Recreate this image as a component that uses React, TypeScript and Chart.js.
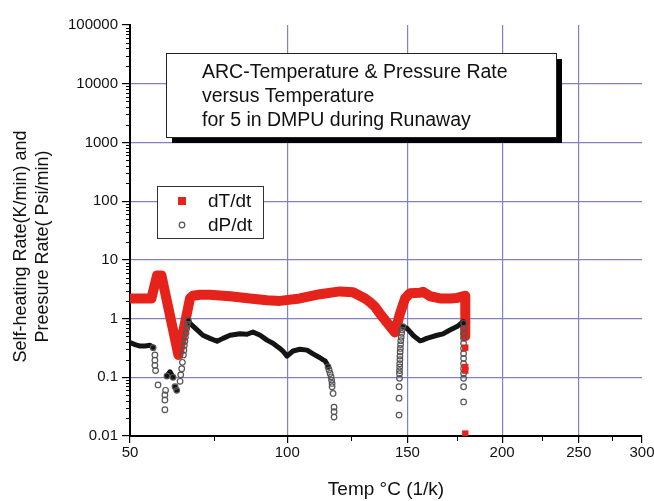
import React, { useEffect, useRef } from 'react';
import { Chart, registerables } from 'chart.js';

Chart.register(...registerables);

const FONT = "'Liberation Sans', Arial, Helvetica, sans-serif";

// ---------- text ----------
const titleLines = ['ARC-Temperature & Pressure Rate', 'versus Temperature', 'for 5 in DMPU during Runaway'];
const yAxisTitle = ['Self-heating Rate(K/min) and', 'Preesure Rate( Psi/min)'];
const xAxisTitle = 'Temp °C (1/k)';
const seriesLabels = ['dT/dt', 'dP/dt'];

// ---------- ticks ----------
const xMajorTicks = [50, 100, 150, 200, 250, 300];
const xMinorTicks = [75, 125, 175, 225, 275];
const yMajorTicks = [0.01, 0.1, 1, 10, 100, 1000, 10000, 100000];
const yTickLabels = ['0.01', '0.1', '1', '10', '100', '1000', '10000', '100000'];
const yMinorMultipliers = [2, 3, 4, 5, 6, 7, 8, 9];

// ---------- dT/dt (self-heating rate) ----------
const dTdtTemp = [50, 53, 56.0, 57.6, 58.9, 63.9, 67.4, 68.3, 70.5, 73.6, 80.1, 86.8, 92.7, 97.3, 104.7, 112.4, 120.4, 125.8, 130.9, 133.1, 135.2, 137.5, 140.6, 144.2, 146.5, 148.9, 151.2, 156.0, 157.5, 161.0, 166.0, 171.1, 174.8, 178.0, 179.2, 179.2];
const dTdtRate = [2.2, 2.2, 2.2, 5.4, 5.4, 0.24, 2.2, 2.45, 2.55, 2.55, 2.4, 2.2, 2.05, 2.0, 2.2, 2.6, 2.9, 2.8, 2.2, 1.9, 1.6, 1.2, 0.85, 0.58, 1.2, 2.2, 2.7, 2.75, 2.85, 2.4, 2.2, 2.2, 2.25, 2.4, 2.45, 0.5];
const dTdtTailTemp = [179.2, 179.2, 179.2, 179.2];
const dTdtTailRate = [0.32, 0.15, 0.13, 0.011];

// ---------- dP/dt (pressure rate) ----------
const dPdtTemp = [
  50, 51.4, 52.8, 54.2, 55.6, 56.5, 57.0, 57.0, 57.0, 57.2, 57.9, 59.9, 59.9, 59.9, 60.1,
  60.5, 61.4, 62.3, 62.9, 63.4, 64.4, 64.6, 64.9, 65.1, 65.4, 65.55, 65.7, 65.85, 66.0, 66.2, 66.4, 66.6, 66.9,
  67.4, 69.6, 71.4, 73.6, 75.9, 77.8, 80.1, 83.4, 85.8, 87.8, 90.3, 92.7, 94.8, 97.3, 98.4, 99.9,
  102.1, 104.7, 107.4, 109.7, 112.4, 113.5, 114.4, 115.0, 115.6, 116.0, 116.4, 116.8, 117.0, 117.2, 117.2, 117.6, 118.0, 118.0, 118.0,
  146.1, 146.1, 146.1, 146.3, 146.3, 146.3, 146.4, 146.4, 146.5, 146.5, 146.6, 146.7, 146.8, 146.9, 147.1, 147.3, 147.5, 147.9,
  149.8, 151.2, 152.7, 154.5, 156.0, 157.5, 159.3, 161.0, 164.5, 167.5, 171.1, 174.8, 178.0,
  178.3, 178.3, 178.3, 178.3, 178.3, 178.3, 178.3, 178.3, 178.3, 178.3, 178.3, 178.3, 178.3, 178.3
];
const dPdtRate = [
  0.39, 0.36, 0.34, 0.34, 0.35, 0.32, 0.24, 0.196, 0.16, 0.13, 0.074, 0.028, 0.041, 0.05, 0.06,
  0.105, 0.124, 0.10, 0.069, 0.06, 0.0855, 0.11, 0.14, 0.18, 0.24, 0.29, 0.35, 0.41, 0.48, 0.57, 0.68, 0.8, 0.93,
  0.83, 0.64, 0.52, 0.46, 0.41, 0.46, 0.52, 0.55, 0.54, 0.59, 0.52, 0.43, 0.38, 0.31, 0.28, 0.23,
  0.28, 0.30, 0.29, 0.25, 0.215, 0.2, 0.19, 0.173, 0.151, 0.133, 0.116, 0.102, 0.0895, 0.0786, 0.069, 0.053, 0.031, 0.026, 0.021,
  0.0227, 0.044, 0.069, 0.096, 0.115, 0.13, 0.15, 0.17, 0.2, 0.23, 0.27, 0.31, 0.36, 0.42, 0.48, 0.56, 0.64, 0.73,
  0.68, 0.6, 0.52, 0.46, 0.42, 0.43, 0.46, 0.48, 0.52, 0.55, 0.64, 0.73, 0.88,
  0.83, 0.68, 0.56, 0.46, 0.38, 0.31, 0.255, 0.21, 0.17, 0.14, 0.116, 0.096, 0.069, 0.038
];

// ---------- helpers ----------
const RED = '#e5231b';
const DARK = '#141414';
const RING = '#555555';
const GRID = '#8080c6';

// x axis is a reciprocal-temperature (1/K) axis labelled in °C
const toU = (t: number) => -1000 / (t + 273.15);
const pts = (temps: number[], rates: number[]) => temps.map((t, i) => ({ x: toU(t), y: rates[i] }));

// sparse (fast-changing) stretches show separate rings, dense stretches a solid band
const isSteep = (dx: number, dy: number) => dx > 25 || dy > 2 * dx + 0.5;

function neighbourSteep(c: any): boolean {
  const d = c.dataset && c.dataset.data;
  const i = c.dataIndex;
  if (!d || i === undefined || i === null) return false;
  const xs = c.chart.scales.x;
  const ys = c.chart.scales.y;
  if (!xs || !ys) return false;
  const px = (p: any) => [xs.getPixelForValue(p.x), ys.getPixelForValue(p.y)];
  const cur = px(d[i]);
  const test = (j: number) => {
    if (j < 0 || j >= d.length) return false;
    const o = px(d[j]);
    return isSteep(Math.abs(o[0] - cur[0]), Math.abs(o[1] - cur[1]));
  };
  return test(i - 1) || test(i + 1);
}

const overlayPlugin = {
  id: 'overlay',
  afterDraw(chart: any) {
    const { ctx, chartArea: a, scales } = chart;
    const xs = scales.x;
    const ys = scales.y;
    ctx.save();

    // minor ticks
    ctx.strokeStyle = '#000';
    ctx.lineWidth = 1;
    ctx.beginPath();
    for (let i = 0; i < yMajorTicks.length - 1; i++) {
      for (const m of yMinorMultipliers) {
        const py = Math.round(ys.getPixelForValue(yMajorTicks[i] * m)) + 0.5;
        ctx.moveTo(a.left - 4, py);
        ctx.lineTo(a.left, py);
      }
    }
    for (const t of xMinorTicks) {
      const px = Math.round(xs.getPixelForValue(toU(t))) + 0.5;
      ctx.moveTo(px, a.bottom);
      ctx.lineTo(px, a.bottom + 5);
    }
    ctx.stroke();

    // y axis title (two lines, rotated)
    ctx.fillStyle = '#111';
    ctx.font = `18px ${FONT}`;
    ctx.textAlign = 'center';
    ctx.textBaseline = 'middle';
    const cy = (a.top + a.bottom) / 2 + 16;
    yAxisTitle.forEach((line, i) => {
      ctx.save();
      ctx.translate(a.left - 109 + i * 22, cy);
      ctx.rotate(-Math.PI / 2);
      ctx.fillText(line, 0, 0);
      ctx.restore();
    });

    // title box with drop shadow
    const bx = a.left + 36, by = a.top + 28, bw = 390, bh = 84;
    ctx.fillStyle = '#000';
    ctx.fillRect(bx + 6, by + 6, bw, bh);
    ctx.fillStyle = '#fff';
    ctx.fillRect(bx, by, bw, bh);
    ctx.strokeStyle = '#222';
    ctx.lineWidth = 1;
    ctx.strokeRect(bx + 0.5, by + 0.5, bw, bh);
    ctx.fillStyle = '#111';
    ctx.font = `19.5px ${FONT}`;
    ctx.textAlign = 'left';
    ctx.textBaseline = 'middle';
    titleLines.forEach((line, i) => ctx.fillText(line, bx + 36, by + 19.5 + i * 24));

    // legend
    const lx = a.left + 27, ly = a.top + 161, lw = 106, lh = 52;
    ctx.fillStyle = '#fff';
    ctx.fillRect(lx, ly, lw, lh);
    ctx.strokeStyle = '#333';
    ctx.strokeRect(lx + 0.5, ly + 0.5, lw, lh);
    ctx.font = `19px ${FONT}`;
    ctx.textAlign = 'left';
    seriesLabels.forEach((label, i) => {
      const my = ly + 15 + i * 24;
      const mx = lx + 25;
      if (i === 0) {
        ctx.fillStyle = RED;
        ctx.fillRect(mx - 4, my - 4, 8, 8);
      } else {
        ctx.strokeStyle = RING;
        ctx.lineWidth = 1.2;
        ctx.beginPath();
        ctx.arc(mx, my, 2.8, 0, Math.PI * 2);
        ctx.stroke();
      }
      ctx.fillStyle = '#111';
      ctx.fillText(label, lx + 51, my + 1);
    });

    ctx.restore();
  },
};

export default function App() {
  const ref = useRef<HTMLCanvasElement>(null);

  useEffect(() => {
    if (!ref.current) return;
    Chart.defaults.font.family = FONT;
    Chart.defaults.color = '#111';

    const chart = new Chart(ref.current, {
      type: 'line',
      data: {
        datasets: [
          {
            label: seriesLabels[0],
            data: pts(dTdtTailTemp, dTdtTailRate),
            showLine: false,
            pointStyle: 'rect',
            pointRadius: 4.5,
            pointBackgroundColor: RED,
            pointBorderColor: RED,
            pointBorderWidth: 0,
          },
          {
            label: seriesLabels[1],
            data: pts(dPdtTemp, dPdtRate),
            borderColor: DARK,
            borderWidth: 5,
            borderJoinStyle: 'round',
            borderCapStyle: 'round',
            tension: 0,
            pointStyle: 'circle',
            pointRadius: (c: any) => (neighbourSteep(c) ? 2.8 : 0),
            pointBorderColor: RING,
            pointBorderWidth: 1.2,
            pointBackgroundColor: 'rgba(255,255,255,0)',
            segment: {
              borderColor: (s: any) =>
                isSteep(Math.abs(s.p1.x - s.p0.x), Math.abs(s.p1.y - s.p0.y)) ? 'rgba(0,0,0,0)' : DARK,
            },
          },
          {
            label: seriesLabels[0],
            data: pts(dTdtTemp, dTdtRate),
            borderColor: RED,
            borderWidth: 10,
            borderJoinStyle: 'round',
            borderCapStyle: 'butt',
            tension: 0,
            pointRadius: 0,
          },
        ],
      },
      options: {
        animation: false,
        responsive: false,
        maintainAspectRatio: false,
        events: [],
        layout: { padding: { left: 0, right: 12, top: 25, bottom: 0 } },
        plugins: {
          legend: { display: false },
          tooltip: { enabled: false },
          title: { display: false },
        },
        scales: {
          x: {
            type: 'linear',
            min: toU(50),
            max: toU(300),
            afterBuildTicks: (s: any) => {
              s.ticks = xMajorTicks.map((t) => ({ value: toU(t) }));
            },
            afterFit: (s: any) => {
              s.height = 65;
              s.paddingLeft = 0;
              s.paddingRight = 0;
            },
            ticks: {
              autoSkip: false,
              maxRotation: 0,
              padding: 1,
              color: '#111',
              font: { size: 15 },
              callback: (_v: any, i: number) => String(xMajorTicks[i]),
            },
            grid: {
              color: (c: any) =>
                c.index === 0 || c.index === xMajorTicks.length - 1 ? 'rgba(0,0,0,0)' : GRID,
              lineWidth: 1.2,
              drawTicks: true,
              tickLength: 7,
              tickColor: '#000',
              tickWidth: 1.2,
            },
            border: { display: true, color: '#000', width: 2 },
            title: {
              display: true,
              text: xAxisTitle,
              color: '#111',
              font: { size: 19 },
              padding: { top: 0, bottom: 0 },
            },
          },
          y: {
            type: 'logarithmic',
            min: 0.01,
            max: 100000,
            afterBuildTicks: (s: any) => {
              s.ticks = yMajorTicks.map((v) => ({ value: v }));
            },
            afterFit: (s: any) => {
              s.width = 130;
              s.paddingTop = 0;
              s.paddingBottom = 0;
            },
            ticks: {
              autoSkip: false,
              padding: 4,
              color: '#111',
              font: { size: 15 },
              callback: (_v: any, i: number) => yTickLabels[i],
            },
            grid: {
              color: (c: any) =>
                c.index === 0 || c.index === yMajorTicks.length - 1 ? 'rgba(0,0,0,0)' : GRID,
              lineWidth: 1.2,
              drawTicks: true,
              tickLength: 8,
              tickColor: '#000',
              tickWidth: 1.2,
            },
            border: { display: true, color: '#000', width: 2 },
          },
        },
      },
      plugins: [overlayPlugin],
    } as any);

    return () => chart.destroy();
  }, []);

  return (
    <div style={{ position: 'fixed', left: 0, top: 0, width: 654, height: 501, background: '#fff' }}>
      <canvas ref={ref} width={654} height={501} style={{ display: 'block', width: 654, height: 501 }} />
    </div>
  );
}
